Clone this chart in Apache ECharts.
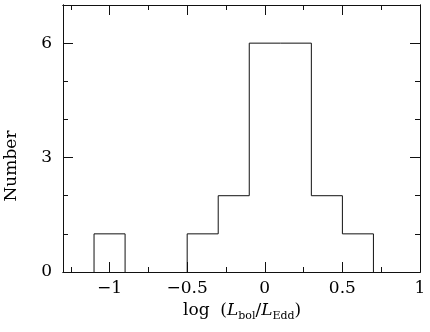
<!DOCTYPE html>
<html>
<head>
<meta charset="utf-8">
<script src="https://cdn.jsdelivr.net/npm/echarts@6/dist/echarts.min.js"></script>
<style>
  html, body { margin: 0; padding: 0; background: #fff; }
  #main { width: 430px; height: 332px; }
</style>
</head>
<body>
<div id="main"></div>
<script>
// histogram bins of log(Lbol/LEdd)
var binLeft = [-1.1, -0.9, -0.7, -0.5, -0.3, -0.1, 0.1, 0.3, 0.5];
var binRight = [-0.9, -0.7, -0.5, -0.3, -0.1, 0.1, 0.3, 0.5, 0.7];
var counts = [1, 0, 0, 1, 2, 6, 6, 2, 1];

var xMajor = [-1, -0.5, 0, 0.5, 1];
var xMinor = [-1.25, -0.75, -0.25, 0.25, 0.75];
var yMajor = [0, 3, 6];
var yMinor = [1, 2, 4, 5];

var FONT = 'DejaVu Serif';
var chart = echarts.init(document.getElementById('main'));

// step outline of the histogram, broken where the count is zero
// (that part lies on the x axis itself)
var outline = [];
var prev = 0;
for (var i = 0; i < counts.length; i++) {
  if (counts[i] === 0) {
    if (prev > 0) outline.push([binLeft[i], 0], [binLeft[i], '-']);
  } else {
    outline.push([binLeft[i], prev], [binLeft[i], counts[i]], [binRight[i], counts[i]]);
  }
  prev = counts[i];
}
outline.push([binRight[counts.length - 1], 0]);

function xAxisDef(pos, ticks, len, labels) {
  return {
    type: 'value', position: pos, min: -1.3, max: 1,
    axisLine: { show: true, onZero: false, lineStyle: { color: '#111', width: 1 } },
    axisTick: { show: true, inside: true, length: len, customValues: ticks, lineStyle: { color: '#111' } },
    axisLabel: labels ? {
      show: true, customValues: ticks, margin: 8, color: '#000',
      fontFamily: FONT, fontSize: 17,
      formatter: function (v) { return String(v).replace('-', '\u2212'); }
    } : { show: false },
    splitLine: { show: false }
  };
}

function yAxisDef(pos, ticks, len, labels) {
  return {
    type: 'value', position: pos, min: 0, max: 7,
    axisLine: { show: true, onZero: false, lineStyle: { color: '#111', width: 1 } },
    axisTick: { show: true, inside: true, length: len, customValues: ticks, lineStyle: { color: '#111' } },
    axisLabel: labels ? {
      show: true, customValues: ticks, margin: 11, color: '#000',
      fontFamily: FONT, fontSize: 17
    } : { show: false },
    splitLine: { show: false }
  };
}

var option = {
  backgroundColor: '#ffffff',
  animation: false,
  grid: { left: 63, right: 10, top: 5, bottom: 60 },
  xAxis: [
    xAxisDef('bottom', xMajor, 10, true),
    xAxisDef('bottom', xMinor, 5, false),
    xAxisDef('top', xMajor, 10, false),
    xAxisDef('top', xMinor, 5, false)
  ],
  yAxis: [
    yAxisDef('left', yMajor, 10, true),
    yAxisDef('left', yMinor, 5, false),
    yAxisDef('right', yMajor, 10, false),
    yAxisDef('right', yMinor, 5, false)
  ],
  graphic: [{
    type: 'text', left: 3, top: 'middle', rotation: Math.PI / 2,
    style: { text: 'Number', fontFamily: FONT, fontSize: 17, fill: '#000' }
  }, {
    type: 'text', left: 183, top: 300,
    style: {
      text: 'log  ({i|L}{s|bol}/{i|L}{s|Edd})',
      fontFamily: FONT, fontSize: 17, fill: '#000', lineHeight: 22,
      rich: {
        i: { fontFamily: FONT, fontStyle: 'italic', fontSize: 17, lineHeight: 22 },
        s: { fontFamily: FONT, fontSize: 11, lineHeight: 14, verticalAlign: 'bottom' }
      }
    }
  }],
  series: [{
    type: 'line',
    xAxisIndex: 0, yAxisIndex: 0,
    showSymbol: false, symbol: 'none', connectNulls: false,
    lineStyle: { color: '#111', width: 1 },
    data: outline
  }]
};
chart.setOption(option);
</script>
</body>
</html>
